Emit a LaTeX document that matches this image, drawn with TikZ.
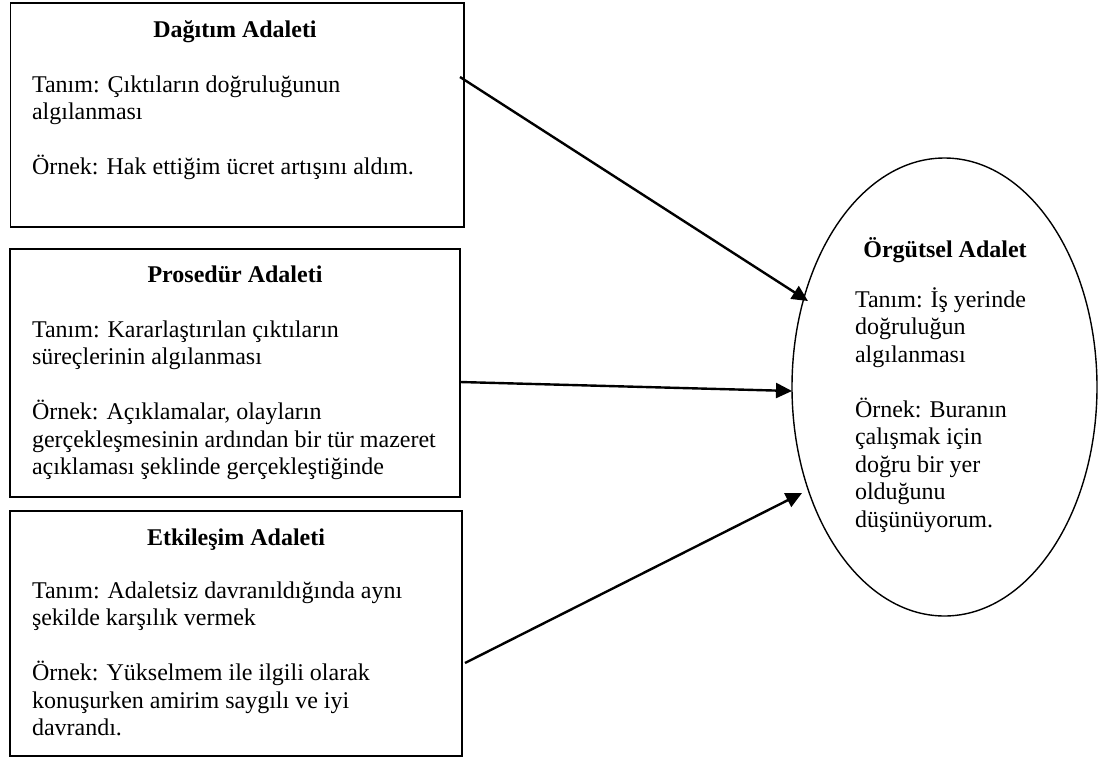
\documentclass[tikz,border=0pt]{standalone}
\usepackage{fontspec}
\setmainfont{Liberation Serif}
\usetikzlibrary{shapes.geometric,arrows.meta}

\newcommand{\firststrut}{\rule{0pt}{25pt}}

\tikzset{
  box/.style={draw, line width=1.7pt, rectangle, inner sep=0pt, outer sep=0pt},
  oval/.style={draw, line width=1.4pt, ellipse, inner sep=0pt, outer sep=0pt},
  ttl/.style={font=\fontsize{24}{27.5}\selectfont\bfseries, inner sep=0pt, outer sep=0pt, anchor=base},
  body/.style={font=\fontsize{24}{27.5}\selectfont, align=left, inner sep=0pt, outer sep=0pt, anchor=north west},
  link/.style={line width=2.4pt, -{Triangle[length=16pt,width=15pt]}}
}

\begin{document}
\begin{tikzpicture}[x=1pt,y=-1pt]
\useasboundingbox (0,0) rectangle (1101,758);

% three boxes on the left
\node[box, minimum width=453.5pt, minimum height=224pt] (dagitim) at (237.25,115) {};
\node[box, minimum width=450pt, minimum height=248pt] (prosedur) at (235,373) {};
\node[box, minimum width=452pt, minimum height=245pt] (etkilesim) at (236,633.5) {};

% the oval on the right
\node[oval, minimum width=305pt, minimum height=458pt] (orgutsel) at (944.5,387) {};

% box texts
\node[ttl] (t1) at (235,37) {Dağıtım Adaleti};
\node[body] (b1) at (32,67) {\firststrut Tanım: Çıktıların doğruluğunun\\algılanması\\[27.5pt]Örnek: Hak ettiğim ücret artışını aldım.};

\node[ttl] (t2) at (235,282) {Prosedür Adaleti};
\node[body] (b2) at (32,312) {\firststrut Tanım: Kararlaştırılan çıktıların\\süreçlerinin algılanması\\[27.5pt]Örnek: Açıklamalar, olayların\\gerçekleşmesinin ardından bir tür mazeret\\açıklaması şeklinde gerçekleştiğinde};

\node[ttl] (t3) at (236,545) {Etkileşim Adaleti};
\node[body] (b3) at (32,573) {\firststrut Tanım: Adaletsiz davranıldığında aynı\\şekilde karşılık vermek\\[27.5pt]Örnek: Yükselmem ile ilgili olarak\\konuşurken amirim saygılı ve iyi\\davrandı.};

% oval texts
\node[ttl] (t4) at (945,257) {Örgütsel Adalet};
\node[body] (b4) at (855,282) {\firststrut Tanım: İş yerinde\\doğruluğun\\algılanması\\[27.5pt]Örnek: Buranın\\çalışmak için\\doğru bir yer\\olduğunu\\düşünüyorum.};

% connector end points
\coordinate (s1) at (460,77);
\coordinate (e1) at (808,301);
\coordinate (s2) at (460,382);
\coordinate (e2) at (792,391);
\coordinate (s3) at (465,663);
\coordinate (e3) at (802,493);

\draw[link] (s1) -- (e1);
\draw[link] (s2) -- (e2);
\draw[link] (s3) -- (e3);
\end{tikzpicture}
\end{document}
